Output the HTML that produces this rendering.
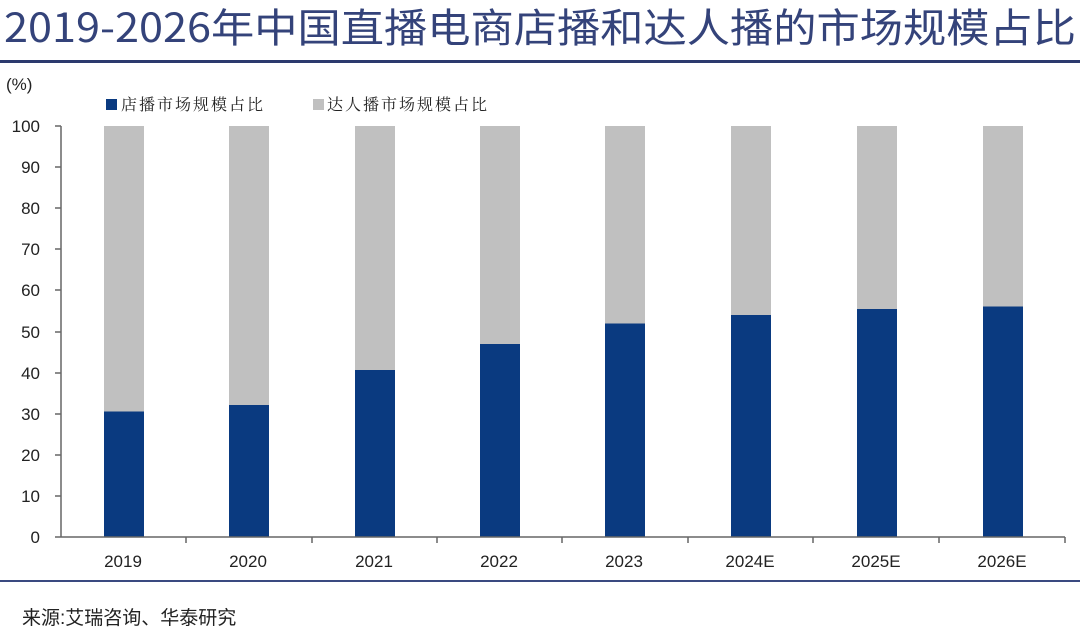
<!DOCTYPE html>
<html><head><meta charset="utf-8"><style>
html,body{margin:0;padding:0;background:#fff;}
svg{display:block;}
</style></head><body>
<svg width="1080" height="638" viewBox="0 0 1080 638" xmlns="http://www.w3.org/2000/svg">
<text x="4" y="42" font-family="'Noto Sans CJK SC',sans-serif" font-size="40" fill="#34437a" textLength="1072" lengthAdjust="spacingAndGlyphs">2019-2026年中国直播电商店播和达人播的市场规模占比</text>
<rect x="0" y="60" width="1080" height="3" fill="#2c3a6e"/>
<g font-family="'Liberation Sans','Noto Sans CJK SC',sans-serif" font-size="17" fill="#222">
<text x="6" y="90">(%)</text>
<rect x="106" y="99" width="11" height="11" fill="#0a3a80"/>
<text x="121" y="110" font-family="'Noto Serif CJK SC',serif" font-size="16" letter-spacing="2">店播市场规模占比</text>
<rect x="313" y="99" width="11" height="11" fill="#c0c0c0"/>
<text x="327" y="110" font-family="'Noto Serif CJK SC',serif" font-size="16" letter-spacing="2">达人播市场规模占比</text>
<g text-anchor="end">
<text x="40" y="132">100</text><text x="40" y="173">90</text><text x="40" y="214">80</text><text x="40" y="255">70</text><text x="40" y="296">60</text><text x="40" y="338">50</text><text x="40" y="379">40</text><text x="40" y="420">30</text><text x="40" y="461">20</text><text x="40" y="502">10</text><text x="40" y="543">0</text>
</g>
<g text-anchor="middle">
<text x="123" y="567">2019</text><text x="248" y="567">2020</text><text x="374" y="567">2021</text><text x="499" y="567">2022</text><text x="624" y="567">2023</text><text x="750" y="567">2024E</text><text x="876" y="567">2025E</text><text x="1002" y="567">2026E</text>
</g>
<text x="22" y="624" font-size="19">来源:艾瑞咨询、华泰研究</text>
</g>
<g fill="#c0c0c0">
<rect x="104" y="126" width="40" height="411"/><rect x="229" y="126" width="40" height="411"/><rect x="355" y="126" width="40" height="411"/><rect x="480" y="126" width="40" height="411"/><rect x="605" y="126" width="40" height="411"/><rect x="731" y="126" width="40" height="411"/><rect x="857" y="126" width="40" height="411"/><rect x="983" y="126" width="40" height="411"/>
</g>
<g fill="#0a3a80">
<rect x="104" y="411.5" width="40" height="125.5"/><rect x="229" y="405" width="40" height="132"/><rect x="355" y="370" width="40" height="167"/><rect x="480" y="344" width="40" height="193"/><rect x="605" y="323.5" width="40" height="213.5"/><rect x="731" y="315" width="40" height="222"/><rect x="857" y="309" width="40" height="228"/><rect x="983" y="306.5" width="40" height="230.5"/>
</g>
<g stroke="#666" stroke-width="1.5" fill="none">
<line x1="61" y1="126" x2="61" y2="537"/>
<line x1="61" y1="537" x2="1065" y2="537"/>
<path d="M55 126H61M55 167H61M55 208H61M55 249H61M55 290H61M55 332H61M55 373H61M55 414H61M55 455H61M55 496H61M55 537H61"/>
<path d="M186 537V543M312 537V543M437 537V543M562 537V543M688 537V543M813 537V543M939 537V543M1065 537V543"/>
</g>
<rect x="0" y="580" width="1080" height="2" fill="#3a4a80"/>
</svg>
</body></html>
